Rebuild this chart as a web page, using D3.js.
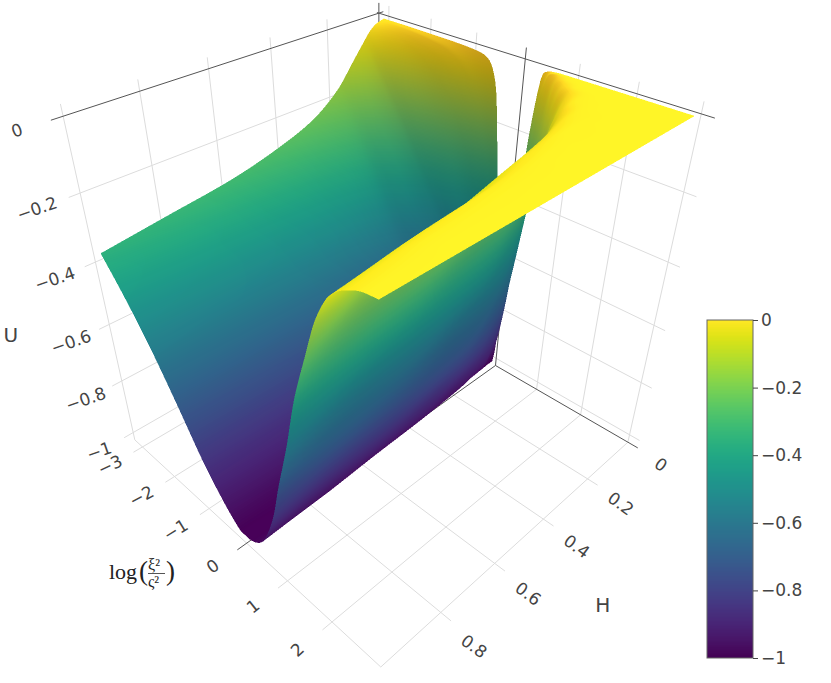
<!DOCTYPE html>
<html><head><meta charset="utf-8">
<style>html,body{margin:0;padding:0;background:#fff}svg{display:block}</style>
<script src="https://cdn.jsdelivr.net/npm/d3@7"></script>
</head><body>
<svg id="chart" width="831" height="683"></svg>
<script>
const logValues=[-3,-2.5,-2,-1.5,-1.25,-1,-.75,-.6,-.45,-.3,-.2,-.1,0,.1,.2,.3,.45,.6,.8,1,1.25,1.5,1.75,2,2.25,2.5,2.75,2.97];
const hValues=[.02,.03,.05,.075,.1,.15,.2,.3,.4,.6,.8,1];
const uValues=[
[-.002,-.002,-.003,-.004,-.005,-.007,-.012,-.025,-.08,-.27,-.45,-.7,-1,-.78,-.5,-.2,-.012,-.002,0,0,0,0,0,0,0,0,0,0],
[-.004,-.008,-.014,-.027,-.045,-.08,-.15,-.22,-.32,-.5,-.65,-.83,-1,-.9,-.74,-.46,-.11,-.008,0,0,0,0,0,0,0,0,0,0],
[-.009,-.04,-.09,-.17,-.22,-.3,-.4,-.47,-.57,-.69,-.78,-.89,-1,-.95,-.87,-.74,-.45,-.18,-.018,-.002,0,0,0,0,0,0,0,0],
[-.024,-.1,-.19,-.31,-.37,-.44,-.53,-.59,-.66,-.75,-.82,-.91,-1,-.97,-.91,-.82,-.64,-.4,-.13,-.02,-.001,0,0,0,0,0,0,0],
[-.05,-.17,-.29,-.42,-.48,-.55,-.63,-.68,-.74,-.81,-.87,-.93,-1,-.98,-.945,-.89,-.75,-.57,-.31,-.1,-.012,-.001,0,0,0,0,0,0],
[-.105,-.25,-.38,-.52,-.58,-.65,-.72,-.76,-.81,-.87,-.91,-.95,-1,-.985,-.955,-.92,-.82,-.69,-.47,-.26,-.06,-.006,-.001,0,0,0,0,0],
[-.16,-.31,-.45,-.59,-.65,-.72,-.79,-.83,-.87,-.91,-.94,-.97,-1,-.99,-.97,-.935,-.85,-.75,-.57,-.37,-.16,-.035,-.004,-.001,0,0,0,0],
[-.225,-.36,-.5,-.64,-.7,-.77,-.83,-.87,-.9,-.94,-.96,-.98,-1,-.995,-.98,-.955,-.88,-.8,-.67,-.48,-.28,-.1,-.025,-.003,-.001,0,0,0],
[-.26,-.39,-.52,-.66,-.72,-.79,-.85,-.89,-.92,-.95,-.97,-.99,-1,-1,-.985,-.965,-.91,-.82,-.7,-.52,-.33,-.145,-.05,-.012,-.002,0,0,0],
[-.305,-.42,-.54,-.67,-.74,-.81,-.87,-.9,-.93,-.96,-.98,-.995,-1,-1,-.99,-.975,-.93,-.86,-.74,-.6,-.41,-.25,-.1,-.05,-.012,-.003,0,0],
[-.33,-.435,-.55,-.68,-.75,-.82,-.88,-.91,-.94,-.97,-.985,-.995,-1,-1,-.995,-.985,-.95,-.88,-.77,-.65,-.46,-.3,-.14,-.07,-.027,-.006,0,0],
[-.355,-.45,-.56,-.69,-.76,-.83,-.89,-.92,-.95,-.975,-.99,-1,-1,-1,-.995,-.985,-.96,-.91,-.82,-.69,-.54,-.37,-.24,-.12,-.05,-.02,-.004,0]
];
const logTicks=[-3,-2,-1,0,1,2];
const hTicks=[0,.2,.4,.6,.8];
const uTicks=[0,-.2,-.4,-.6,-.8,-1];
const colorTicks=[0,-.2,-.4,-.6,-.8,-1];
const logRange=[-3.25,3], hRange=[0,1], uRange=[-1.03,.03];

// camera calibration: box coordinates -> page pixels, fitted below
const cameraAnchors=[
[-3.25,1,-1.03,135,441],[3,1,-1.03,382,666],[3,0,-1.03,628,443],[0,0,-1.03,497,365],[0,1,-1.03,250,541],
[-3.25,1,.03,60,103],[3,0,.03,703,102],[-3.25,0,.03,377,5],[0,0,.03,527.6,47.7],[-3.25,1,0,63,115],[3,0,0,701.7,115],
[-3.25,1,-.2,80,193],[-3.25,1,-.4,98,264],[-3.25,1,-.6,110,323],[-3.25,1,-.8,122,382],[-3.25,1,-1,133,431],
[3,.2,-1.03,585,482],[3,.4,-1.03,542,521],[3,.6,-1.03,494,565],[3,.8,-1.03,441,613],
[-3,1,-1.03,142,447],[-2,1,-1.03,173,477],[-1,1,-1.03,208,508],[1,1,-1.03,287,581],[2,1,-1.03,332,623],
[-2,0,.03,432.7,18.3],[-1,0,.03,478,32],[1,0,.03,581.7,64],[2,0,.03,639,82],[-3,0,.03,390.7,5],
[-3.25,.8,.03,137.7,79],[-3.25,.6,.03,206,57],[-3.25,.4,.03,268,37.7],[-3.25,.2,.03,325,20.7],
[3,0,-.2,684,192],[3,0,-.4,668,262],[3,0,-.6,653,322],[3,0,-.8,642,380],[3,0,-1,630,433]
];

const sx=d3.scaleLinear().domain(logRange).range([0,1]);
const sy=d3.scaleLinear().domain(hRange).range([0,1]);
const sz=d3.scaleLinear().domain(uRange).range([0,1]);
const color=d3.scaleSequential(d3.interpolateViridis).domain([-1,0]);

function fitCamera(){
  const n=11,A=d3.range(n).map(()=>new Array(n+1).fill(0));
  const add=(r,b)=>{for(let i=0;i<n;i++){for(let j=0;j<n;j++)A[i][j]+=r[i]*r[j];A[i][n]+=r[i]*b;}};
  cameraAnchors.forEach(([l,h,u,px,py])=>{
    const X=sx(l),Y=sy(h),Z=sz(u);
    add([1,X,Y,Z,0,0,0,0,-px*X,-px*Y,-px*Z],px);
    add([0,0,0,0,1,X,Y,Z,-py*X,-py*Y,-py*Z],py);
  });
  for(let i=0;i<n;i++){
    let m=i;for(let k=i+1;k<n;k++)if(Math.abs(A[k][i])>Math.abs(A[m][i]))m=k;
    [A[i],A[m]]=[A[m],A[i]];
    for(let k=0;k<n;k++)if(k!==i){const f=A[k][i]/A[i][i];for(let j=i;j<=n;j++)A[k][j]-=f*A[i][j];}
  }
  return A.map((r,i)=>r[n]/r[i]);
}
const cam=fitCamera();
function depth(l,h,u){return 1+cam[8]*sx(l)+cam[9]*sy(h)+cam[10]*sz(u);}
function project(l,h,u){
  const X=sx(l),Y=sy(h),Z=sz(u),w=depth(l,h,u);
  return [(cam[0]+cam[1]*X+cam[2]*Y+cam[3]*Z)/w,(cam[4]+cam[5]*X+cam[6]*Y+cam[7]*Z)/w];
}

// monotone piecewise-cubic display smoothing between the table's nodes
function smooth(xs,ys){
  const n=xs.length,d=[],m=new Array(n);
  for(let i=0;i<n-1;i++)d.push((ys[i+1]-ys[i])/(xs[i+1]-xs[i]));
  m[0]=d[0];m[n-1]=d[n-2];
  for(let i=1;i<n-1;i++){
    if(d[i-1]*d[i]<=0)m[i]=0;
    else{const a=xs[i]-xs[i-1],b=xs[i+1]-xs[i];m[i]=3*(a+b)/((2*b+a)/d[i-1]+(b+2*a)/d[i]);}
  }
  return x=>{
    let i=Math.max(0,Math.min(n-2,d3.bisectRight(xs,x)-1));
    const h=xs[i+1]-xs[i],t=(x-xs[i])/h,t2=t*t,t3=t2*t;
    return (2*t3-3*t2+1)*ys[i]+(t3-2*t2+t)*h*m[i]+(-2*t3+3*t2)*ys[i+1]+(t3-t2)*h*m[i+1];
  };
}
function refine(a,step,minK){const o=[];a.forEach((v,i)=>{if(i<a.length-1){const k=Math.max(minK,Math.ceil((a[i+1]-v)/step));for(let j=0;j<k;j++)o.push(v+(a[i+1]-v)*j/k);}else o.push(v);});return o;}
const fineL=refine(logValues,.04,3), fineH=refine(hValues,.02,3);
const byCol=logValues.map((_,c)=>smooth(hValues,uValues.map(r=>r[c])));
const fineU=fineH.map(h=>{const f=smooth(logValues,byCol.map(g=>g(h)));return fineL.map(l=>Math.min(0,f(l)));});

// vertices: page position, inverse depth, value and soft shading from the surface slope
const nR=fineH.length,nC=fineL.length;
const verts=fineH.map((h,r)=>fineL.map((l,c)=>{
  const u=fineU[r][c],[x,y]=project(l,h,u);
  const c0=Math.max(0,c-1),c1=Math.min(nC-1,c+1),r0=Math.max(0,r-1),r1=Math.min(nR-1,r+1);
  const zs=sz(0)-sz(-1);
  const dx=(fineU[r][c1]-fineU[r][c0])/(sx(fineL[c1])-sx(fineL[c0]))*zs;
  const dy=(fineU[r1][c]-fineU[r0][c])/(sy(fineH[r1])-sy(fineH[r0]))*zs;
  const len=Math.sqrt(1+dx*dx+dy*dy),nz=1/len,ny=Math.abs(dy)/len;
  const tint=Math.max(ny,dx>0?Math.min(.8,dx/7):0);
  return {x,y,iw:1/depth(l,h,u),u,f:(dx>0?0.84:0.76)+(dx>0?.22:.3)*Math.sqrt(nz),t:tint};
}));

// depth-buffered rasterisation of the mesh, oversampled 2x
const SS=2,W=831*SS,Hp=683*SS;
const canvas=document.createElement("canvas");canvas.width=W;canvas.height=Hp;
const ctx=canvas.getContext("2d"),img=ctx.createImageData(W,Hp),px=img.data;
const zb=new Float32Array(W*Hp).fill(-1e9);
const lut=d3.range(1024).map(i=>d3.rgb(color(-1+i/1023)));
function tri(a,b,c){
  const ax=a.x*SS,ay=a.y*SS,bx=b.x*SS,by=b.y*SS,cx=c.x*SS,cy=c.y*SS;
  const den=(by-cy)*(ax-cx)+(cx-bx)*(ay-cy);if(Math.abs(den)<1e-9)return;
  const x0=Math.max(0,Math.floor(Math.min(ax,bx,cx))),x1=Math.min(W-1,Math.ceil(Math.max(ax,bx,cx)));
  const y0=Math.max(0,Math.floor(Math.min(ay,by,cy))),y1=Math.min(Hp-1,Math.ceil(Math.max(ay,by,cy)));
  const e=-1e-4;
  for(let y=y0;y<=y1;y++)for(let x=x0;x<=x1;x++){
    const sxp=x+.5,syp=y+.5;
    const l1=((by-cy)*(sxp-cx)+(cx-bx)*(syp-cy))/den,l2=((cy-ay)*(sxp-cx)+(ax-cx)*(syp-cy))/den,l3=1-l1-l2;
    if(l1<e||l2<e||l3<e)continue;
    const iw=l1*a.iw+l2*b.iw+l3*c.iw,k=y*W+x;
    if(iw<=zb[k])continue;
    zb[k]=iw;
    const u=l1*a.u+l2*b.u+l3*c.u,f=l1*a.f+l2*b.f+l3*c.f,t=l1*a.t+l2*b.t+l3*c.t;
    const col=lut[Math.max(0,Math.min(1023,Math.round((u+1)*1023)))],p=k*4;
    px[p]=Math.min(255,col.r*f*(1-.05*t));px[p+1]=Math.min(255,col.g*f*(1-.2*t));px[p+2]=Math.min(255,col.b*f*(1-.1*t));px[p+3]=255;
  }
}
for(let r=0;r<nR-1;r++)for(let c=0;c<nC-1;c++){
  const a=verts[r][c],b=verts[r][c+1],d=verts[r+1][c],e=verts[r+1][c+1];
  tri(a,b,e);tri(a,e,d);
}
ctx.putImageData(img,0,0);

const svg=d3.select("#chart");
const line=d3.line();
const gridCol="#dcdcdc",zeroCol="#555";
const grid=svg.append("g").attr("fill","none");
const hExt=1.03,lExt=3.2,lBack=-3.3,hBack=-.018;
function seg(a,b,c,w){grid.append("path").attr("d",line([project(...a),project(...b)])).attr("stroke",c).attr("stroke-width",w||1);}
// wall at the lowest log value
[.2,.4,.6,.8,1].forEach(h=>seg([logRange[0],h,uRange[0]],[logRange[0],h,uRange[1]],gridCol));
seg([logRange[0],0,uRange[0]],[logRange[0],0,uRange[1]],zeroCol);
uTicks.filter(u=>u!==0).forEach(u=>seg([logRange[0],hBack,u],[logRange[0],hExt,u],gridCol));
// wall at H = 0
[-3,-2,-1,1,2,3].forEach(l=>seg([l,0,uRange[0]],[l,0,uRange[1]],gridCol));
uTicks.filter(u=>u!==0).forEach(u=>seg([lBack,0,u],[lExt,0,u],gridCol));
// floor
logTicks.filter(l=>l!==0).forEach(l=>seg([l,0,uRange[0]],[l,hExt,uRange[0]],gridCol));
hTicks.filter(h=>h!==0).forEach(h=>seg([lBack,h,uRange[0]],[lExt,h,uRange[0]],gridCol));
seg([logRange[0],1,uRange[0]],[3,1,uRange[0]],gridCol);
seg([3,0,uRange[0]],[3,1,uRange[0]],gridCol);
// zero lines
seg([logRange[0],hBack,0],[logRange[0],hExt,0],zeroCol);
seg([lBack,0,0],[lExt,0,0],zeroCol);
seg([0,0,uRange[0]],[0,0,uRange[1]],zeroCol);
seg([0,0,uRange[0]],[0,hExt,uRange[0]],zeroCol);
seg([0,0,uRange[0]],[lExt,0,uRange[0]],zeroCol);

// surface
svg.append("image").attr("x",0).attr("y",0).attr("width",831).attr("height",683).attr("href",canvas.toDataURL());

// tick labels
const fmt=v=>String(+v.toFixed(1)).replace("-","\u2212");
const font="'DejaVu Sans',Verdana,sans-serif", ink="#444";
function label(p,txt,rot,size){
  svg.append("text").attr("transform",`translate(${p[0]},${p[1]}) rotate(${rot})`)
    .attr("text-anchor","middle").attr("dominant-baseline","middle")
    .attr("font-family",font).attr("font-size",size||17).attr("fill",ink).text(txt);
}
uTicks.forEach(u=>label(project(logRange[0],1.11,u),fmt(u),-19));
logTicks.forEach(l=>label(project(l,1.105,uRange[0]),fmt(l),-25-3.4*(l+3)));
hTicks.forEach(h=>label(project(3.7,h+.015,uRange[0]),fmt(h),36));
label(project(-3.25,1.25,-.5),"U",0,20);
label(project(4.6,.515,uRange[0]),"H",0,20);

// log title
const tg=svg.append("g").attr("font-family","'Liberation Serif',serif").attr("fill","#222");
tg.append("text").attr("x",109).attr("y",579).attr("font-size",22).text("log");
tg.append("text").attr("x",139).attr("y",580).attr("font-size",27).attr("font-weight",100).text("(");
tg.append("text").attr("x",148).attr("y",570).attr("font-size",16).text("\u03be\u00b2");
tg.append("line").attr("x1",148).attr("x2",165).attr("y1",573.5).attr("y2",573.5).attr("stroke","#555");
tg.append("text").attr("x",148).attr("y",587).attr("font-size",16).text("\u03c2\u00b2");
tg.append("text").attr("x",166).attr("y",580).attr("font-size",27).text(")");

// colour bar
const barY=d3.scaleLinear().domain([-1,0]).range([658,320]);
const cb=svg.append("g").attr("shape-rendering","crispEdges");
const bands=d3.range(-1,0,1/338);
cb.selectAll("rect").data(bands).join("rect")
  .attr("x",707).attr("width",46)
  .attr("y",d=>barY(d+1/338)).attr("height",1.2)
  .attr("fill",d=>color(d+1/676));
svg.append("rect").attr("x",707).attr("y",320).attr("width",46).attr("height",338)
  .attr("fill","none").attr("stroke","#666").attr("stroke-width",1);
const ax=svg.append("g").attr("transform","translate(753,0)")
  .call(d3.axisRight(barY).tickValues(colorTicks).tickSize(5).tickPadding(3).tickFormat(fmt));
ax.select(".domain").remove();
ax.selectAll("line").attr("stroke","#444");
ax.selectAll("text").attr("font-family",font).attr("font-size",17).attr("fill",ink);
</script>
</body></html>
